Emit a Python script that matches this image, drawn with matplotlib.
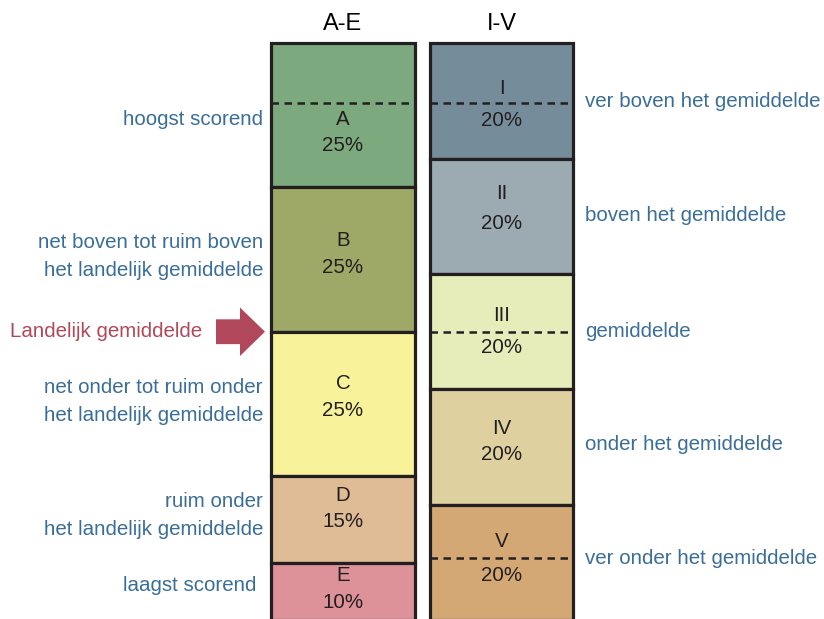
import matplotlib
matplotlib.use("Agg")
import matplotlib.pyplot as plt
from matplotlib.patches import FancyArrow
import numpy as np

# ---- data ----
left_header = "A-E"
right_header = "I-V"
left_cats = ["A", "B", "C", "D", "E"]
left_vals = [25, 25, 25, 15, 10]
right_cats = ["I", "II", "III", "IV", "V"]
right_vals = [20, 20, 20, 20, 20]
left_colors = ["#7da97f", "#9ea867", "#f8f39b", "#dfbc95", "#dd9199"]
right_colors = ["#758c9a", "#9caab2", "#e6ecba", "#dfd0a0", "#d4a874"]
left_dashed = [10.4]
right_dashed = [10.4, 50, 89.2]

left_descr = ["hoogst scorend",
              "net boven tot ruim boven\nhet landelijk gemiddelde",
              "net onder tot ruim onder\nhet landelijk gemiddelde",
              "ruim onder\nhet landelijk gemiddelde",
              "laagst scorend"]
right_descr = ["ver boven het gemiddelde", "boven het gemiddelde", "gemiddelde",
               "onder het gemiddelde", "ver onder het gemiddelde"]
avg_label = "Landelijk gemiddelde"
avg_value = 50

# ---- layout (positions in axis units: x in px, y in % from top) ----
left_x, right_x = 343, 501.5
left_w, right_w = 144, 143
left_letter_y = [13.2, 34.2, 59.0, 78.3, 92.2]
left_pct_y = [17.7, 38.9, 63.7, 82.8, 96.9]
right_letter_y = [7.8, 26.0, 47.2, 66.7, 86.3]
right_pct_y = [13.4, 31.25, 52.8, 71.2, 92.2]
left_descr_y = [13.2, 37.0, 62.0, 81.8, 94.0]
left_descr_x = [263, 263, 263, 263, 256]
right_descr_y = [10.2, 29.8, 50, 69.5, 89.2]

plt.rcParams['font.family'] = ['Liberation Sans', 'DejaVu Sans']
EDGE = "#231f20"
BLUE = "#3a6e98"
RED = "#b0485a"

fig = plt.figure(figsize=(8.24, 6.19), dpi=100)
ax = fig.add_axes([0, 0, 1, 1])
ax.set_xlim(0, 824)
ax.set_ylim(99.75, -7.45)
ax.axis("off")

def column(x, w, vals, colors):
    bottoms = np.concatenate([[0], np.cumsum(vals)[:-1]])
    ax.bar([x] * len(vals), vals, width=w, bottom=bottoms, color=colors,
           edgecolor=EDGE, linewidth=2.3, align="center", zorder=2)

column(left_x, left_w, left_vals, left_colors)
column(right_x, right_w, right_vals, right_colors)

for y in left_dashed:
    ax.plot([left_x - left_w / 2, left_x + left_w / 2], [y, y], color=EDGE,
            lw=1.8, ls=(0, (3, 2.2)), zorder=3)
for y in right_dashed:
    ax.plot([right_x - right_w / 2, right_x + right_w / 2], [y, y], color=EDGE,
            lw=1.8, ls=(0, (3, 2.2)), zorder=3)

fs = 14.8
for c, v, y1, y2 in zip(left_cats, left_vals, left_letter_y, left_pct_y):
    ax.text(left_x, y1, c, ha="center", va="center", fontsize=fs, color=EDGE, zorder=4)
    ax.text(left_x, y2, f"{v}%", ha="center", va="center", fontsize=fs, color=EDGE, zorder=4)
for c, v, y1, y2 in zip(right_cats, right_vals, right_letter_y, right_pct_y):
    ax.text(right_x, y1, c, ha="center", va="center", fontsize=fs, color=EDGE, zorder=4)
    ax.text(right_x, y2, f"{v}%", ha="center", va="center", fontsize=fs, color=EDGE, zorder=4)

ax.text(left_x, -3.3, left_header, ha="center", va="center", fontsize=17, color="black")
ax.text(right_x, -3.3, right_header, ha="center", va="center", fontsize=17, color="black")

for t, x, y in zip(left_descr, left_descr_x, left_descr_y):
    ax.text(x, y, t, ha="right", va="center", fontsize=fs, color=BLUE,
            linespacing=1.6, multialignment="right")
for t, y in zip(right_descr, right_descr_y):
    ax.text(585, y, t, ha="left", va="center", fontsize=fs, color=BLUE)

ax.text(10, avg_value, avg_label, ha="left", va="center", fontsize=fs, color=RED)
ax.add_patch(FancyArrow(216, avg_value, 49, 0, width=4.3, head_width=8.4,
                        head_length=25, length_includes_head=True,
                        color="#b0475a", lw=0))

fig.savefig("out.png", dpi=100)
